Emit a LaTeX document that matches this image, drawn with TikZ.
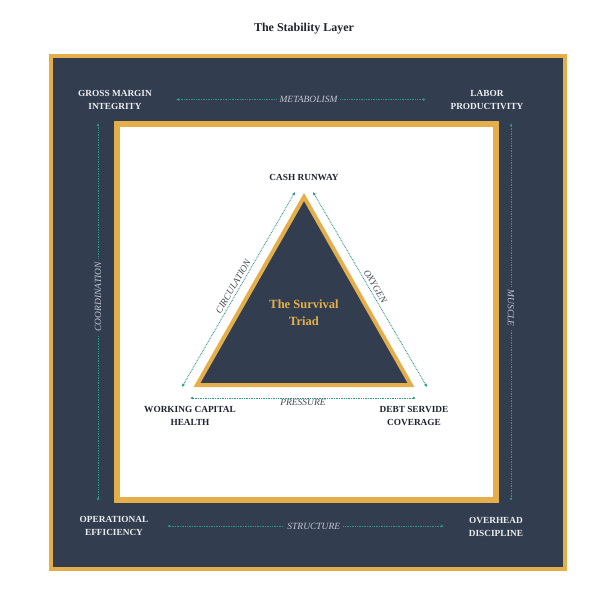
\documentclass[tikz,border=0pt]{standalone}
\usepackage{fontspec}
\setmainfont{Liberation Serif}
\usetikzlibrary{arrows.meta}
\definecolor{navy}{HTML}{323D4F}
\definecolor{gold}{HTML}{E4AF4A}
\definecolor{teal}{HTML}{2F9688}
\definecolor{lighttxt}{HTML}{ECEDF0}
\definecolor{softtxt}{HTML}{C3C8D1}
\definecolor{darktxt}{HTML}{1E2430}
\definecolor{midtxt}{HTML}{444A55}
\tikzset{
  corner/.style={text=lighttxt, align=center, font=\bfseries\fontsize{9.3}{13}\selectfont, inner sep=0pt},
  vertex/.style={text=darktxt, align=center, font=\bfseries\fontsize{9.3}{13}\selectfont, inner sep=0pt},
  flow/.style={draw=teal, dash pattern=on 0.8pt off 0.9pt, line width=0.9pt, {Latex[length=3.2pt,width=3.2pt]}-{Latex[length=3.2pt,width=3.2pt]}},
  darklbl/.style={fill=navy, text=softtxt, font=\itshape\fontsize{9.5}{11}\selectfont, inner sep=3pt},
  whitelbl/.style={text=midtxt, font=\itshape\fontsize{9.5}{11}\selectfont, inner sep=1.5pt},
}
\begin{document}
\begin{tikzpicture}[x=1pt,y=-1pt]
\useasboundingbox (0,0) rectangle (600,600);
% title
\node[font=\bfseries\fontsize{12}{14}\selectfont, text=darktxt] (title) at (304,29) {The Stability Layer};
% outer frame
\draw[gold, line width=4pt, fill=navy] (51,56) rectangle (565,569);
% inner white square
\draw[gold, line width=6pt, fill=white] (117,124) rectangle (496,500);
% corner labels
\node[corner] (gm) at (115,99.5) {GROSS MARGIN\\INTEGRITY};
\node[corner] (lp) at (487,99.5) {LABOR\\PRODUCTIVITY};
\node[corner] (oe) at (114,526) {OPERATIONAL\\EFFICIENCY};
\node[corner] (od) at (496,527) {OVERHEAD\\DISCIPLINE};
% frame arrow ends
\coordinate (tl) at (176,99.5);
\coordinate (tr) at (426,99.5);
\coordinate (lt) at (98,123);
\coordinate (lb) at (98,501);
\coordinate (rt) at (511,123);
\coordinate (rb) at (511,501);
\coordinate (bl) at (167,526);
\coordinate (br) at (444,526);
\draw[flow] (tl) -- node[darklbl, pos=0.53] {METABOLISM} (tr);
\draw[flow] (lb) -- node[darklbl, pos=0.54, sloped] {COORDINATION} (lt);
\draw[flow] (rt) -- node[darklbl, pos=0.49, sloped] {MUSCLE} (rb);
\draw[flow] (bl) -- node[darklbl, pos=0.53] {STRUCTURE} (br);
% triangle
\coordinate (apex) at (304,197);
\coordinate (tbl) at (197,385);
\coordinate (tbr) at (411,385);
\draw[gold, line width=4pt, fill=navy, line join=miter] (apex) -- (tbl) -- (tbr) -- cycle;
\node[text=gold, align=center, font=\bfseries\fontsize{12.5}{17}\selectfont] (triad) at (304,313) {The Survival\\Triad};
% vertex labels
\node[vertex] (cash) at (304,177) {CASH RUNWAY};
\node[vertex] (wch) at (190,415.5) {WORKING CAPITAL\\HEALTH};
\node[vertex] (dsc) at (414,415.5) {DEBT SERVIDE\\COVERAGE};
% triangle flows
\coordinate (c1) at (182,387);
\coordinate (c2) at (295,192);
\coordinate (o1) at (313,192);
\coordinate (o2) at (427,387);
\coordinate (p1) at (190,398);
\coordinate (p2) at (416,398);
\draw[flow] (c1) -- node[whitelbl, midway, sloped, above, inner sep=2.5pt] {CIRCULATION} (c2);
\draw[flow] (o1) -- node[whitelbl, midway, sloped, above, inner sep=2.5pt] {OXYGEN} (o2);
\draw[flow] (p1) -- node[whitelbl, midway, below, inner sep=1pt] {PRESSURE} (p2);
\end{tikzpicture}
\end{document}
